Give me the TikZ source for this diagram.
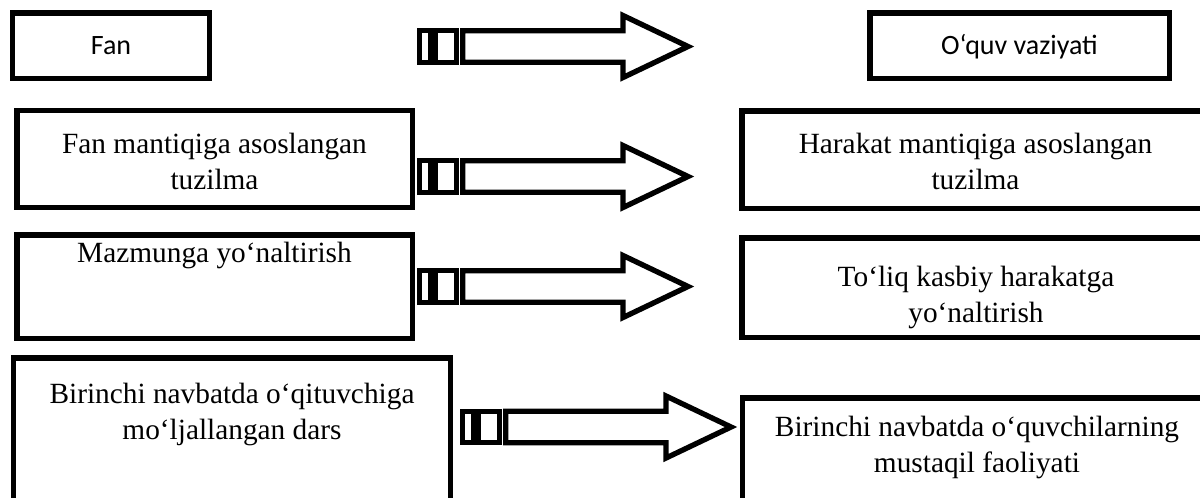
\documentclass[tikz,border=0pt]{standalone}
\usepackage{fontspec}
\setmainfont{Liberation Serif}
\newfontfamily\calib{Carlito}
\tikzset{
  box/.style={draw, line width=4.1pt, rectangle, inner sep=0pt, outer sep=0pt},
  serif/.style={font=\fontsize{22}{27}\selectfont, anchor=base, inner sep=0pt},
  sans/.style={font=\calib\fontsize{21}{26}\selectfont, anchor=base, inner sep=0pt},
  arrline/.style={draw, line width=4pt},
  blockarrow/.pic={
    \draw[arrline] (2.75,-15.75) rectangle (13.25,15.75);
    \draw[arrline] (18.75,-15.75) rectangle (39.25,15.75);
    \draw[arrline] (45.75,-15.75) -- (206,-15.75) -- (206,-31) -- (271,0)
      -- (206,31) -- (206,15.75) -- (45.75,15.75) -- cycle;
  }
}
\newcommand{\twolines}[2]{\begin{tabular}[t]{@{}c@{}}#1\\#2\end{tabular}}
\begin{document}
\begin{tikzpicture}[x=0.75pt,y=-0.75pt]
\useasboundingbox (0,0) rectangle (1200,497);
% boxes
\node[box, minimum width=147.4pt, minimum height=49.1pt] (fan) at (111,45.5) {};
\node[box, minimum width=224.6pt, minimum height=49.1pt] (oquv) at (1019.5,45.5) {};
\node[box, minimum width=296.6pt, minimum height=72.4pt] (l2) at (214.5,159) {};
\node[box, minimum width=350.6pt, minimum height=73.1pt] (r2) at (975.5,159.5) {};
\node[box, minimum width=296.6pt, minimum height=77.6pt] (l3) at (214.5,286.5) {};
\node[box, minimum width=350.6pt, minimum height=74.6pt] (r3) at (975.5,287.5) {};
\node[box, minimum width=327.4pt, minimum height=149.6pt] (l4) at (232,457.5) {};
\node[box, minimum width=349.9pt, minimum height=119.6pt] (r4) at (976,477.5) {};
% texts
\node[sans] (tfan) at (111,54) {Fan};
\node[sans] (toquv) at (1019.5,54) {O‘quv vaziyati};
\node[serif] (tl2) at (214.5,153) {\twolines{Fan mantiqiga asoslangan}{tuzilma}};
\node[serif] (tr2) at (975.5,153) {\twolines{Harakat mantiqiga asoslangan}{tuzilma}};
\node[serif] (tl3) at (214.5,262) {Mazmunga yo‘naltirish};
\node[serif] (tr3) at (976,286) {\twolines{To‘liq kasbiy harakatga}{yo‘naltirish}};
\node[serif] (tl4) at (232,403) {\twolines{Birinchi navbatda o‘qituvchiga}{mo‘ljallangan dars}};
\node[serif] (tr4) at (977,436) {\twolines{Birinchi navbatda o‘quvchilarning}{mustaqil faoliyati}};
% block arrows
\pic at (417,46.5) {blockarrow};
\pic at (417,176.5) {blockarrow};
\pic at (417,286.5) {blockarrow};
\pic at (460,427) {blockarrow};
\end{tikzpicture}
\end{document}
